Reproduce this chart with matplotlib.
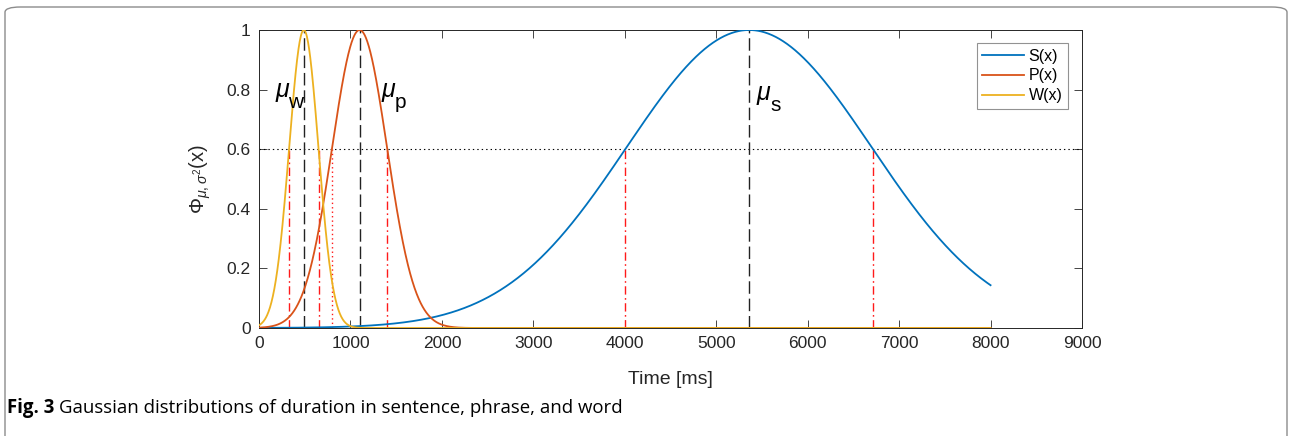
import numpy as np
import matplotlib
matplotlib.use("Agg")
import matplotlib.pyplot as plt
from matplotlib.patches import FancyBboxPatch

plt.rcParams['font.family'] = ['Liberation Sans', 'DejaVu Sans']
plt.rcParams['mathtext.fontset'] = 'custom'
plt.rcParams['mathtext.rm'] = 'Liberation Sans'
plt.rcParams['mathtext.it'] = 'Liberation Sans:italic'
plt.rcParams['lines.scale_dashes'] = False

# duration model per level: sentence, phrase, word (ms)
names = ["S(x)", "P(x)", "W(x)"]
subs = ["s", "p", "w"]
mus = [5360, 1100, 490]
sigmas = [1340, 300, 160]
colors = ["#0072BD", "#D95319", "#EDB120"]
level = 0.6
t_end = 8000
# where each mu label sits (ms, height)
label_pos = [(5440, 0.765), (1330, 0.775), (170, 0.775)]

fig = plt.figure(figsize=(12.91, 4.36), dpi=100)

# outer frame around the figure panel
frame = FancyBboxPatch((5 / 1291, -0.1), 1282 / 1291, 1.0 - 7 / 436 + 0.1,
                       boxstyle="round,pad=0,rounding_size=0.012",
                       transform=fig.transFigure, fill=False,
                       edgecolor="#8c8c8c", linewidth=1.0)
fig.patches.append(frame)

ax = fig.add_axes([259 / 1291, 1 - 328 / 436, 823 / 1291, 298 / 436])

x = np.linspace(0, t_end, 2000)
for name, mu, sd, c in zip(names, mus, sigmas, colors):
    y = np.exp(-(x - mu) ** 2 / (2 * sd ** 2))
    ax.plot(x, y, color=c, lw=1.3, label=name, zorder=3)

# dotted threshold line
ax.plot([0, 9000], [level, level], color="k", lw=0.8, dashes=(1, 2.2), zorder=2)

# mean markers
for mu in mus:
    ax.plot([mu, mu], [0, 1], color="#222222", lw=1.0, dashes=(9, 3.5), zorder=2)

# threshold crossings
half = np.sqrt(2 * np.log(1 / level))
for i, (mu, sd) in enumerate(zip(mus, sigmas)):
    for side in (-1, 1):
        xc = mu + side * half * sd
        if names[i] == "P(x)" and side == -1:
            ax.plot([xc, xc], [0, level], color="#ff1a1a", lw=1.0,
                    dashes=(1, 2.2), zorder=2)
        else:
            ax.plot([xc, xc], [0, level], color="#ff1a1a", lw=1.0,
                    dashes=(6, 2.5, 1.2, 2.5), zorder=2)

for (lx, ly), s in zip(label_pos, subs):
    ax.text(lx, ly, r"$\mu$", fontsize=18, color="k", zorder=4)
    ax.annotate(s, (lx, ly), xytext=(10, -8), textcoords="offset points",
                fontsize=15, color="k", zorder=4)

ax.set_xlim(0, 9000)
ax.set_ylim(0, 1)
ax.set_xticks(np.arange(0, 9001, 1000))
ax.set_yticks([0, 0.2, 0.4, 0.6, 0.8, 1])
ax.set_yticklabels(["0", "0.2", "0.4", "0.6", "0.8", "1"])
ax.tick_params(direction="in", top=True, right=True, length=6, width=0.6,
               labelsize=12.5, colors="#262626", pad=6)
for sp in ax.spines.values():
    sp.set_color("#262626")
    sp.set_linewidth(0.7)

ax.set_xlabel("Time [ms]", fontsize=14, labelpad=14, color="#262626")
ax.set_ylabel(r"$\Phi_{\mu,\sigma^2}$(x)", fontsize=14.5, labelpad=10, color="#262626")

leg = ax.legend(loc="upper right", bbox_to_anchor=(0.983, 0.956), fontsize=11.5,
                frameon=True, fancybox=False, borderpad=0.35, labelspacing=0.3,
                handlelength=2.6, handletextpad=0.3, borderaxespad=0)
leg.get_frame().set_edgecolor("#777777")
leg.get_frame().set_linewidth(0.8)

fig.text(7 / 1291, 1 - 413 / 436, "Fig. 3", fontsize=13.4, fontweight="bold",
         family="Open Sans", va="baseline")
fig.text(59 / 1291, 1 - 413 / 436,
         "Gaussian distributions of duration in sentence, phrase, and word",
         fontsize=13.4, family="Open Sans", va="baseline")

fig.savefig("out.png", dpi=100)
